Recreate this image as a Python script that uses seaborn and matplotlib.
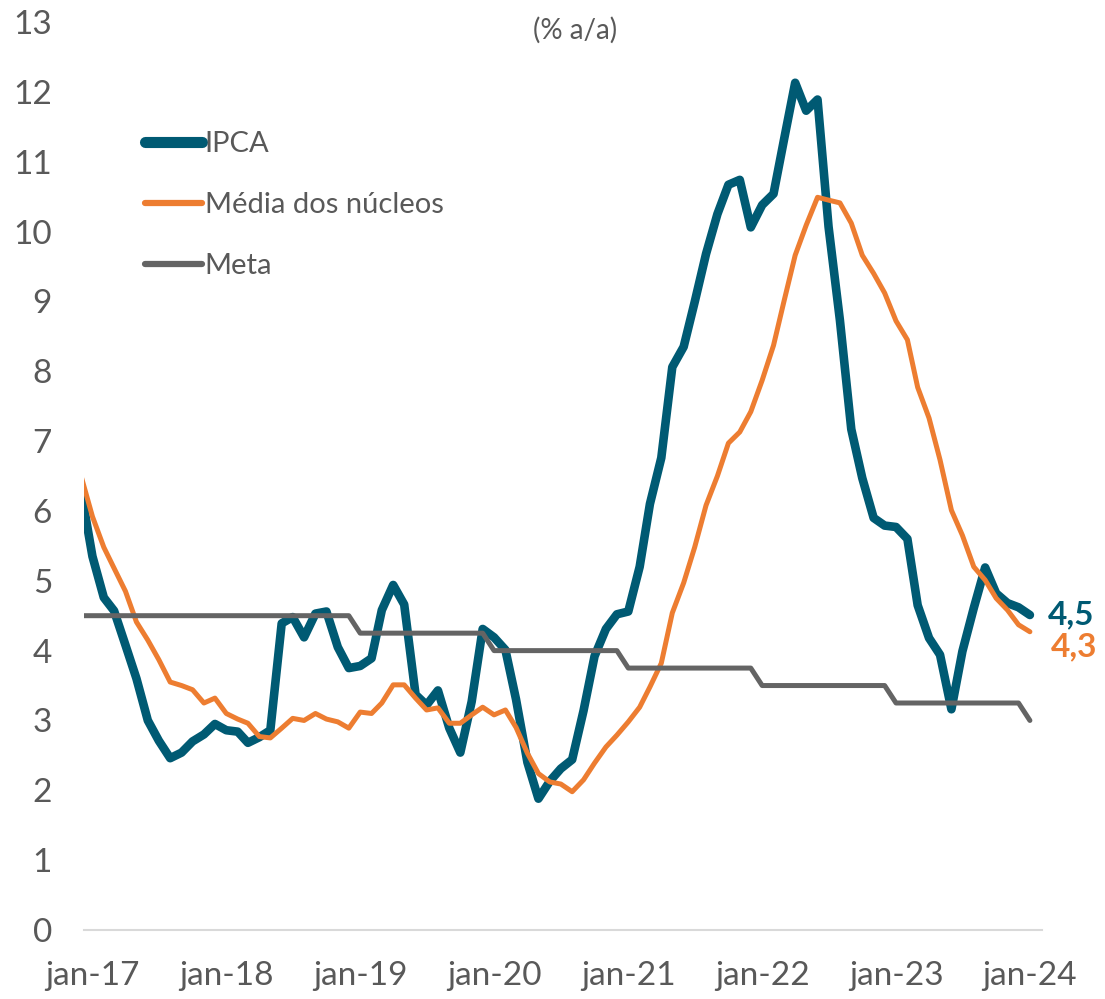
import pandas as pd
import seaborn as sns
import matplotlib.pyplot as plt

# monthly series, dez/2016 .. jan/2024 (first point sits just left of the axis)
meses = pd.date_range('2016-12-01', '2024-01-01', freq='MS')

ipca = [6.29,
        5.35, 4.76, 4.57, 4.08, 3.60, 3.00, 2.71, 2.46, 2.54, 2.70, 2.80, 2.95,
        2.86, 2.84, 2.68, 2.76, 2.86, 4.39, 4.48, 4.19, 4.53, 4.56, 4.05, 3.75,
        3.78, 3.89, 4.58, 4.94, 4.66, 3.37, 3.22, 3.43, 2.89, 2.54, 3.27, 4.31,
        4.19, 4.01, 3.30, 2.40, 1.88, 2.13, 2.31, 2.44, 3.14, 3.92, 4.31, 4.52,
        4.56, 5.20, 6.10, 6.76, 8.06, 8.35, 8.99, 9.68, 10.25, 10.67, 10.74, 10.06,
        10.38, 10.54, 11.30, 12.13, 11.73, 11.89, 10.07, 8.73, 7.17, 6.47, 5.90, 5.79,
        5.77, 5.60, 4.65, 4.18, 3.94, 3.16, 3.99, 4.61, 5.19, 4.82, 4.68, 4.62,
        4.51]

nucleos = [6.50,
           5.92, 5.48, 5.18, 4.85, 4.41, 4.15, 3.87, 3.55, 3.50, 3.44, 3.25, 3.32,
           3.10, 3.02, 2.96, 2.77, 2.75, 2.89, 3.03, 3.00, 3.10, 3.02, 2.98, 2.89,
           3.12, 3.10, 3.25, 3.51, 3.51, 3.32, 3.15, 3.18, 2.96, 2.96, 3.08, 3.19,
           3.08, 3.15, 2.90, 2.53, 2.24, 2.12, 2.09, 1.98, 2.15, 2.39, 2.62, 2.79,
           2.98, 3.19, 3.48, 3.82, 4.54, 4.97, 5.48, 6.08, 6.50, 6.97, 7.13, 7.42,
           7.87, 8.37, 8.99, 9.66, 10.09, 10.49, 10.45, 10.41, 10.12, 9.66, 9.40, 9.12,
           8.72, 8.45, 7.77, 7.33, 6.73, 6.01, 5.65, 5.20, 5.01, 4.75, 4.58, 4.37,
           4.27]

meta = [4.5] * 25 + [4.25] * 12 + [4.0] * 12 + [3.75] * 12 + [3.5] * 12 + [3.25] * 12 + [3.0]

anos = [2017, 2018, 2019, 2020, 2021, 2022, 2023, 2024]
rotulos_x = ['jan-17', 'jan-18', 'jan-19', 'jan-20', 'jan-21', 'jan-22', 'jan-23', 'jan-24']

df = pd.DataFrame({'mes': meses, 'IPCA': ipca, 'Média dos núcleos': nucleos, 'Meta': meta})

TEAL = '#005A73'
ORANGE = '#ED7D31'
GRAY = '#646464'
TXT = '#595959'

sns.set_style('white')
plt.rcParams['font.family'] = ['Lato', 'DejaVu Sans']

fig = plt.figure(figsize=(11.05, 9.99), dpi=100)
ax = fig.add_axes([84 / 1105, 69 / 999, (1042 - 84) / 1105, (930 - 22) / 999])

sns.lineplot(data=df, x='mes', y='IPCA', ax=ax, color=TEAL, linewidth=6.2,
             label='IPCA', solid_capstyle='round', solid_joinstyle='round')
sns.lineplot(data=df, x='mes', y='Média dos núcleos', ax=ax, color=ORANGE, linewidth=3.6,
             label='Média dos núcleos', solid_joinstyle='round')
sns.lineplot(data=df, x='mes', y='Meta', ax=ax, color=GRAY, linewidth=3.6,
             label='Meta', solid_capstyle='round')

ax.set_xlim(pd.Timestamp('2016-12-09'), pd.Timestamp('2024-02-03'))
ax.set_ylim(0, 13)
ax.set_yticks(range(0, 14))
ax.set_xticks([pd.Timestamp(f'{a}-01-01') for a in anos])
ax.set_xticklabels(rotulos_x)
ax.set_xlabel('')
ax.set_ylabel('')
ax.tick_params(axis='y', length=0, pad=23, labelsize=24, labelcolor=TXT)
ax.tick_params(axis='x', length=0, pad=22, labelsize=24, labelcolor=TXT)

for s in ['top', 'right', 'left']:
    ax.spines[s].set_visible(False)
ax.spines['bottom'].set_color('#D9D9D9')
ax.spines['bottom'].set_linewidth(1.5)
ax.spines['bottom'].set_zorder(0)

leg = ax.legend(loc='upper left', bbox_to_anchor=(145 / 1105, 1 - 131 / 999),
                bbox_transform=fig.transFigure, frameon=False, fontsize=21,
                handlelength=1.95, handletextpad=0.1, labelspacing=1.2,
                borderpad=0, borderaxespad=0)
for t in leg.get_texts():
    t.set_color(TXT)
for h, lw in zip(leg.get_lines(), [8, 4.5, 4.5]):
    h.set_linewidth(lw)
    h.set_solid_capstyle('round')

# end labels
ax.annotate(f'{ipca[-1]:.1f}'.replace('.', ','), xy=(meses[-1], ipca[-1]), xytext=(13, 0),
            textcoords='offset points', va='center', ha='left', fontsize=24,
            fontweight='bold', color=TEAL)
ax.annotate(f'{nucleos[-1]:.1f}'.replace('.', ','), xy=(meses[-1], nucleos[-1]), xytext=(15, -11),
            textcoords='offset points', va='center', ha='left', fontsize=24,
            fontweight='bold', color=ORANGE)

fig.text(575 / 1105, 1 - 30 / 999, '(% a/a)', ha='center', va='center', fontsize=20, color=TXT)

fig.savefig('out.png', dpi=100)
